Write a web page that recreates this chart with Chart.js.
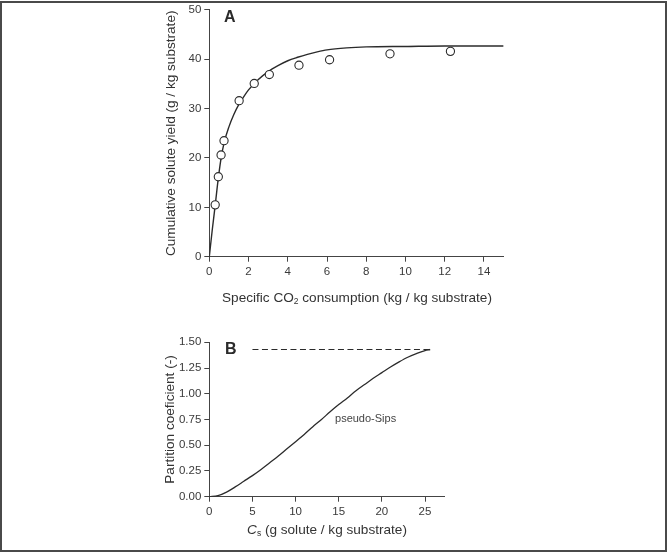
<!DOCTYPE html>
<html>
<head>
<meta charset="utf-8">
<script src="https://cdn.jsdelivr.net/npm/chart.js@4.4.1/dist/chart.umd.min.js"></script>
<style>
  body { margin: 0; width: 670px; height: 553px; background: #fff; position: relative; overflow: hidden;
         font-family: "Liberation Sans", Arial, sans-serif; }
  #frame { position: absolute; left: 0; top: 1px; width: 667px; height: 551px; box-sizing: border-box;
           border: 2px solid #4a4a4a; }
  .box { position: absolute; left: 0; }
  .xtitle { position: absolute; font-size: 13.6px; color: #333; white-space: nowrap; transform: translate(-50%, -50%); }
  .xtitle sub { font-size: 8.5px; vertical-align: -2px; }
</style>
</head>
<body>
<div id="frame"></div>
<div class="box" style="top:0"><canvas id="chartA" width="670" height="320"></canvas></div>
<div class="box" style="top:320px"><canvas id="chartB" width="670" height="233"></canvas></div>
<div class="xtitle" style="left:357px; top:298px">Specific CO<sub>2</sub> consumption (kg / kg substrate)</div>
<div class="xtitle" style="left:327px; top:530px"><i>C</i><sub>s</sub> (g solute / kg substrate)</div>

<script>
// Panel A: measured yield (circles) and fitted curve
const co2Measured = [0.30, 0.46, 0.60, 0.75, 1.52, 2.29, 3.06, 4.57, 6.13, 9.21, 12.29];
const yieldMeasured = [10.5, 16.2, 20.6, 23.5, 31.6, 35.1, 36.9, 38.8, 39.9, 41.1, 41.6];
const co2Curve = [0, 0.15, 0.3, 0.45, 0.6, 0.75, 1, 1.25, 1.5, 1.75, 2, 2.5, 3, 3.5, 4, 4.5, 5, 5.5, 6, 7, 8, 10, 12, 15];
const yieldCurve = [0, 5.4, 10.4, 15.6, 19.9, 23.0, 26.3, 28.8, 30.8, 32.4, 33.8, 35.9, 37.5, 38.7, 39.7, 40.4, 41.0, 41.5, 41.9, 42.3, 42.5, 42.6, 42.7, 42.7];
const xTicksA = [0, 2, 4, 6, 8, 10, 12, 14];
const yTicksA = [0, 10, 20, 30, 40, 50];

// Panel B: pseudo-Sips partition coefficient
const csCurve = [0, 1, 2, 3, 4, 5, 6, 7, 8, 9, 10, 11, 12, 13, 14, 15, 16, 17, 18, 19, 20, 21, 22, 23, 24, 25, 25.6];
const kCurve = [0, 0.01, 0.045, 0.095, 0.15, 0.205, 0.265, 0.33, 0.395, 0.465, 0.535, 0.605, 0.68, 0.75, 0.825, 0.895, 0.96, 1.03, 1.09, 1.15, 1.205, 1.26, 1.31, 1.355, 1.39, 1.42, 1.43];
const csLimit = [5, 25.6];
const kLimit = [1.43, 1.43];
const xTicksB = [0, 5, 10, 15, 20, 25];
const yTicksB = [0, 0.25, 0.5, 0.75, 1.0, 1.25, 1.5];

const ink = '#2b2b2b';
const axisGray = '#444';
const fontFam = '"Liberation Sans", Arial, sans-serif';

const toPoints = (xs, ys) => xs.map((x, i) => ({ x: x, y: ys[i] }));

// text drawn at data coordinates
const notesPlugin = {
  id: 'notes',
  afterDatasetsDraw(chart, args, opts) {
    const { ctx, scales } = chart;
    (opts.items || []).forEach(n => {
      ctx.save();
      ctx.font = n.font;
      ctx.fillStyle = n.color || ink;
      ctx.textAlign = n.align || 'left';
      ctx.textBaseline = 'middle';
      ctx.fillText(n.text, scales.x.getPixelForValue(n.x), scales.y.getPixelForValue(n.y));
      ctx.restore();
    });
  }
};

function axis(min, max, ticks, size, opts) {
  return {
    type: 'linear',
    min: min,
    max: max,
    afterBuildTicks: s => { s.ticks = ticks.map(v => ({ value: v })); },
    afterFit: s => { if (opts.horizontal) s.height = size; else s.width = size; },
    grid: { display: true, drawOnChartArea: false, drawTicks: true, tickLength: 5, color: axisGray },
    border: { display: true, color: axisGray, width: 1 },
    ticks: {
      color: '#3a3a3a', font: { size: 11.5, family: fontFam },
      padding: 3, maxRotation: 0, autoSkip: false,
      callback: opts.fmt || (v => v)
    },
    title: opts.title ? {
      display: true, text: opts.title, color: '#333',
      font: { size: 13.6, family: fontFam },
      padding: { top: opts.titleOffset, bottom: 0 }
    } : { display: false }
  };
}

new Chart(document.getElementById('chartA'), {
  type: 'scatter',
  data: {
    datasets: [{
      data: toPoints(co2Measured, yieldMeasured),
      pointRadius: 4.1,
      pointBackgroundColor: '#fff',
      pointBorderColor: ink,
      pointBorderWidth: 1.1,
      showLine: false
    }, {
      data: toPoints(co2Curve, yieldCurve),
      showLine: true,
      pointRadius: 0,
      borderColor: ink,
      borderWidth: 1.4,
      cubicInterpolationMode: 'monotone'
    }]
  },
  options: {
    responsive: false,
    animation: false,
    layout: { padding: { left: 0, right: 166.4, top: 9.3, bottom: 0 } },
    plugins: {
      legend: { display: false },
      tooltip: { enabled: false },
      notes: { items: [{ text: 'A', x: 1.05, y: 48.4, font: 'bold 16px ' + fontFam, align: 'center' }] }
    },
    scales: {
      x: axis(0, 15, xTicksA, 63.3, { horizontal: true }),
      y: axis(0, 50, yTicksA, 209.3, { title: 'Cumulative solute yield (g / kg substrate)', titleOffset: 163 })
    }
  },
  plugins: [notesPlugin]
});

new Chart(document.getElementById('chartB'), {
  type: 'scatter',
  data: {
    datasets: [{
      data: toPoints(csCurve, kCurve),
      showLine: true,
      pointRadius: 0,
      borderColor: ink,
      borderWidth: 1.3,
      cubicInterpolationMode: 'monotone'
    }, {
      data: toPoints(csLimit, kLimit),
      showLine: true,
      pointRadius: 0,
      borderColor: ink,
      borderWidth: 1.2,
      borderDash: [6, 3.5]
    }]
  },
  options: {
    responsive: false,
    animation: false,
    layout: { padding: { left: 0, right: 226, top: 22.3, bottom: 0 } },
    plugins: {
      legend: { display: false },
      tooltip: { enabled: false },
      notes: { items: [
        { text: 'B', x: 2.5, y: 1.43, font: 'bold 16px ' + fontFam, align: 'center' },
        { text: 'pseudo-Sips', x: 14.57, y: 0.752, font: '11px ' + fontFam, color: '#444' }
      ] }
    },
    scales: {
      x: axis(0, 27.2, xTicksB, 56.3, { horizontal: true }),
      y: axis(0, 1.5, yTicksB, 209.3, { title: 'Partition coeficient (-)', titleOffset: 162, fmt: v => v.toFixed(2) })
    }
  },
  plugins: [notesPlugin]
});
</script>
</body>
</html>
